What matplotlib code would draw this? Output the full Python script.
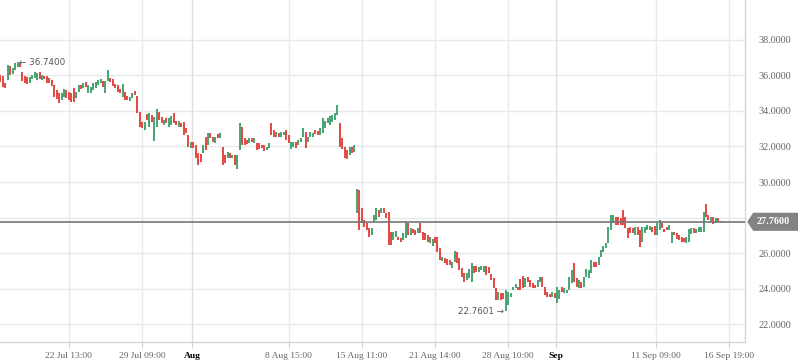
import matplotlib
matplotlib.use('Agg')
import matplotlib.pyplot as plt
from matplotlib.patches import Polygon
from matplotlib.transforms import blended_transform_factory
import numpy as np

# Colours
up_color = '#4aa775'
down_color = '#e34d48'
grid_color = '#e8eaed'
grid_month = '#dcdfe3'
axis_color = '#d3d7db'
text_color = '#666666'
last_color = '#747676'

# OHLC-style bars (open, close)
opens_a = [36.03, 35.97, 35.60, 35.75, 36.54, 36.08, 36.31, 36.50, 36.70, 36.22,
           35.97, 35.90, 35.60, 35.78, 35.88, 35.75, 36.18, 35.75, 35.99, 35.97,
           35.84, 35.75, 35.46, 35.18, 35.03, 34.62, 34.81, 35.18, 35.09, 35.03,
           35.28, 34.71, 35.09, 35.46, 35.28, 35.65, 35.03, 35.00]
closes_a = [35.65, 35.37, 35.28, 36.59, 36.03, 36.40, 36.69, 36.74, 36.45, 35.71,
            35.56, 35.50, 35.90, 36.03, 36.18, 36.12, 35.78, 36.05, 35.78, 35.60,
            35.56, 35.41, 34.81, 34.66, 34.43, 35.03, 35.22, 34.71, 34.62, 34.53,
            34.49, 35.09, 35.46, 35.22, 35.60, 35.37, 35.46, 35.37]

opens_b = [35.18, 35.28, 35.46, 35.56, 35.71, 35.03, 35.71, 35.84, 35.78, 35.52,
           35.46, 35.22, 34.81, 35.09, 34.84, 34.58, 34.71, 35.15, 34.84, 33.96,
           33.40, 32.93, 33.83, 33.12, 33.77, 32.33, 33.12, 33.96, 33.68, 33.21,
           33.59, 33.12, 33.21, 33.91, 33.45, 33.12, 33.34, 33.40, 33.02]
closes_b = [35.56, 35.65, 35.75, 35.78, 35.37, 35.71, 36.31, 35.65, 35.41, 35.28,
            35.09, 35.03, 35.52, 34.62, 34.62, 34.81, 35.03, 34.90, 33.87, 33.12,
            33.02, 33.40, 33.49, 33.87, 33.40, 33.64, 34.09, 33.49, 33.31, 33.49,
            33.31, 33.59, 33.72, 33.31, 33.21, 33.45, 33.12, 32.65, 32.74]

opens_c = [32.65, 31.90, 32.27, 32.08, 31.61, 31.56, 31.61, 32.55, 32.08, 32.74,
           32.55, 32.18, 32.69, 32.46, 31.99, 31.52, 31.33, 31.61, 31.33, 31.52,
           30.73, 31.80, 33.12, 32.46, 32.37, 32.18, 32.46, 32.18, 32.22, 32.18,
           32.08, 32.08, 31.80, 31.90, 33.30, 32.93, 32.55, 32.78, 32.55]
closes_c = [31.99, 32.27, 31.90, 31.33, 30.96, 31.14, 32.08, 31.80, 32.74, 32.46,
            32.27, 32.55, 32.46, 32.74, 30.96, 31.05, 31.71, 31.33, 31.52, 30.96,
            31.52, 33.30, 32.08, 32.08, 32.12, 32.46, 32.27, 32.46, 31.80, 31.86,
            31.90, 31.75, 31.99, 32.18, 32.65, 32.55, 32.84, 32.55, 32.80]

opens_d = [32.65, 32.93, 32.65, 31.86, 31.99, 32.24, 32.08, 32.27, 32.55, 32.80,
           32.27, 32.55, 32.55, 32.93, 32.87, 32.65, 32.74, 33.02, 33.30, 33.21,
           33.40, 33.49, 33.77, 33.30, 32.46, 31.99, 31.80, 31.52, 31.99, 31.71]
closes_d = [32.84, 32.37, 32.18, 32.27, 32.24, 31.90, 32.37, 32.46, 33.02, 31.93,
            32.55, 32.84, 32.74, 32.69, 32.65, 33.02, 33.59, 33.44, 33.59, 33.74,
            33.77, 33.87, 34.34, 31.99, 31.86, 31.33, 31.30, 31.99, 31.61, 32.08]

opens_e = [28.24, 29.55, 28.52, 27.86, 27.67, 27.39, 27.01, 27.77, 27.86, 28.42,
           28.24, 28.52, 28.24, 28.33, 27.20, 26.73, 26.88, 26.92, 26.83, 26.73,
           26.83, 27.71, 27.01, 27.33, 27.30, 27.11, 27.71, 27.20, 27.11, 27.01,
           26.54, 26.39, 26.92, 26.92, 26.26, 25.57, 25.70, 25.66, 25.61, 25.14,
           25.51, 26.08, 25.70, 25.14, 24.85, 24.48, 24.57, 24.39, 25.27, 25.27,
           24.95, 25.04, 24.95, 25.27, 25.23, 24.81, 24.57, 24.01, 23.35, 23.73,
           23.73, 22.7601, 23.07, 23.54, 23.92, 24.01, 24.10, 24.52, 24.70, 24.10,
           24.67, 24.48, 24.29, 24.20, 24.10, 24.39, 24.67, 24.10, 23.82, 23.69,
           23.50, 23.73, 23.20, 23.39, 24.07, 23.73, 23.73, 23.92, 24.29, 25.46,
           24.57, 24.01, 24.39, 24.10, 24.67, 24.57, 24.85, 25.51, 25.51, 25.32,
           25.79, 26.08, 26.26, 26.54, 27.30, 27.67, 28.05, 28.01, 27.95, 28.42,
           28.05, 27.39, 27.48, 27.39, 27.01, 27.48, 27.30, 26.64, 27.11, 27.30,
           27.30, 27.48, 27.52, 27.01, 27.30, 27.67, 27.33, 27.48, 27.30, 26.58,
           27.20, 27.15, 27.01, 26.92, 26.83, 26.54, 26.64, 27.07, 27.39, 27.15,
           27.20, 27.20, 27.20, 28.76, 28.14, 27.77, 28.05, 27.67, 27.95, 27.82]
closes_e = [29.59, 27.30, 27.67, 27.48, 27.30, 26.92, 27.39, 28.14, 28.52, 28.05,
            28.52, 28.24, 27.95, 26.45, 26.45, 27.20, 27.26, 26.73, 26.64, 27.11,
            27.77, 27.01, 27.39, 27.11, 27.01, 27.39, 27.15, 26.73, 26.73, 26.64,
            26.92, 26.77, 26.54, 26.08, 25.61, 25.79, 25.42, 25.32, 25.32, 25.51,
            26.13, 25.42, 25.04, 24.67, 24.39, 24.85, 25.08, 25.42, 24.85, 24.95,
            25.19, 25.27, 25.27, 24.76, 24.85, 24.48, 24.01, 23.35, 23.82, 23.35,
            23.39, 23.92, 23.82, 23.73, 24.10, 24.25, 23.92, 23.92, 24.01, 24.57,
            24.39, 24.10, 24.01, 24.01, 24.48, 24.67, 24.10, 23.63, 23.54, 23.50,
            23.82, 23.45, 24.07, 23.92, 23.82, 24.01, 23.92, 24.67, 25.04, 24.39,
            24.07, 24.48, 24.01, 24.67, 25.08, 25.04, 25.61, 25.23, 25.23, 25.79,
            26.17, 26.39, 26.54, 27.48, 28.14, 28.14, 27.58, 27.58, 27.58, 27.58,
            27.39, 26.83, 27.11, 27.11, 27.48, 27.01, 26.36, 27.48, 27.48, 27.58,
            27.52, 27.20, 27.01, 27.67, 27.86, 27.39, 27.20, 27.30, 27.58, 27.20,
            27.01, 26.77, 26.73, 26.64, 26.64, 26.92, 27.33, 27.39, 27.15, 27.33,
            27.48, 27.48, 28.33, 28.05, 27.86, 28.05, 27.63, 27.95, 27.77, 27.76]

opens = np.array(opens_a + opens_b + opens_c + opens_d + opens_e)
closes = np.array(closes_a + closes_b + closes_c + closes_d + closes_e)

# Date axis labels (bar index where each label falls)
tick_pos = [28, 58, 78.5, 118, 148, 178, 208, 227.5, 268.5, 298.5]
tick_labels = ['22 Jul 13:00', '29 Jul 09:00', 'Aug', '8 Aug 15:00', '15 Aug 11:00',
               '21 Aug 14:00', '28 Aug 10:00', 'Sep', '11 Sep 09:00', '16 Sep 19:00']
month_labels = ['Aug', 'Sep']
price_ticks = [22, 24, 26, 28, 30, 32, 34, 36, 38]

fig = plt.figure(figsize=(7.98, 3.63), dpi=100)
fig.patch.set_facecolor('white')
ax = fig.add_axes([0, 21 / 363, 745 / 798, 342 / 363])

x = np.arange(len(opens))
lows = np.minimum(opens, closes)
highs = np.maximum(opens, closes)
colors = np.where(closes >= opens, up_color, down_color)

# Grid
for p in price_ticks:
    ax.axhline(p, color=grid_color, lw=1, zorder=0)
for t, lab in zip(tick_pos, tick_labels):
    ax.axvline(t, color=grid_month if lab in month_labels else grid_color, lw=1, zorder=0)

# Bars
ax.vlines(x, lows, highs, colors=colors, lw=1.45, zorder=2)

# Last price line and label
last = closes[-1]
ax.axhline(last, color=last_color, lw=1.2, zorder=3)
tr = blended_transform_factory(ax.transAxes, ax.transData)
h = 0.51
poly = Polygon([(1.003, last), (1.011, last + h), (1.08, last + h),
                (1.08, last - h), (1.011, last - h)],
               closed=True, transform=tr, facecolor='#818483', edgecolor='none',
               clip_on=False, zorder=4)
ax.add_patch(poly)
ax.text(1.016, last, f'{last:.4f}', transform=tr, color='white', fontsize=7.3,
        fontweight='bold', family='Liberation Serif', va='center', ha='left', zorder=5)

# High / low markers
i_hi = int(np.argmax(highs))
i_lo = int(np.argmin(lows))
ax.text(i_hi + 0.6, highs[i_hi], f'\u2190 {highs[i_hi]:.4f}', fontsize=6.3,
        color='#555555', ha='left', va='center', zorder=5)
ax.text(i_lo - 0.8, lows[i_lo] - 0.05, f'{lows[i_lo]:.4f} \u2192', fontsize=6.3,
        color='#555555', ha='right', va='center', zorder=5)

# Axes
ax.set_xlim(-0.2, 305)
ax.set_ylim(20.99, 40.25)
for s in ['top', 'left']:
    ax.spines[s].set_visible(False)
for s in ['right', 'bottom']:
    ax.spines[s].set_color(axis_color)
    ax.spines[s].set_linewidth(1)

# the 28 label sits under the last-price tag, so it is left blank
ax.yaxis.tick_right()
ax.set_yticks(price_ticks)
ax.set_yticklabels(['' if p == 28 else f'{p:.4f}' for p in price_ticks])
ax.tick_params(axis='y', length=0, pad=10, labelsize=7.3, labelcolor=text_color)
for lab in ax.get_yticklabels():
    lab.set_family('Liberation Serif')

ax.set_xticks(tick_pos)
ax.set_xticklabels(tick_labels)
ax.tick_params(axis='x', length=4, color=axis_color, pad=3, labelsize=6.8,
               labelcolor=text_color)
for lab in ax.get_xticklabels():
    lab.set_family('Liberation Serif')
    if lab.get_text() in month_labels:
        lab.set_color('black')
        lab.set_fontweight('bold')

plt.savefig('out.png', dpi=100, facecolor='white')
